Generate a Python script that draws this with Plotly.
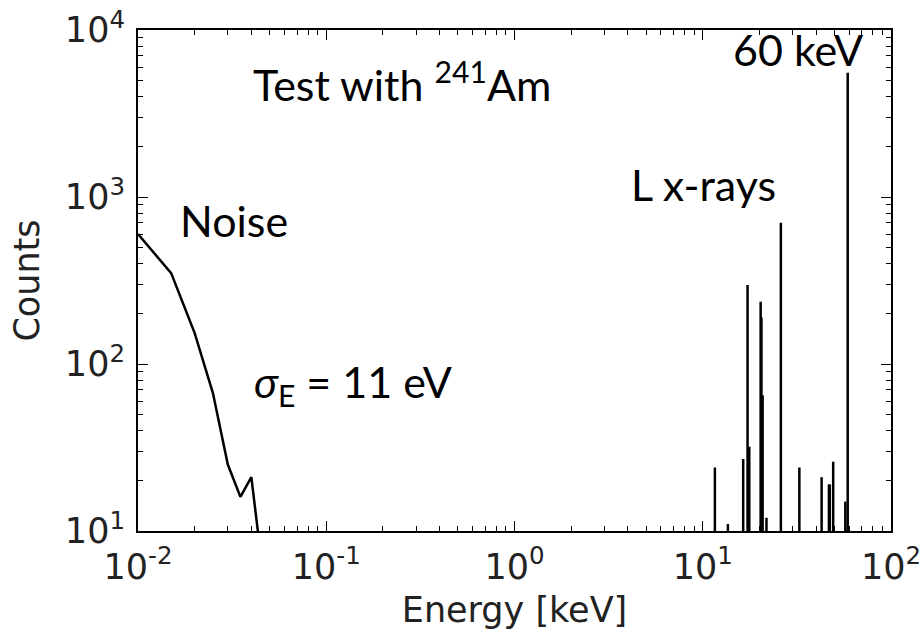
import plotly.graph_objects as go

# Low-energy noise tail of the spectrum (energy in keV, counts)
noise_energy = [0.010, 0.015, 0.020, 0.025, 0.030, 0.035, 0.040, 0.045]
noise_counts = [600, 350, 153, 67, 25, 16, 21, 7]

# Narrow spectral lines (energy in keV, counts)
line_energy = [11.6, 13.6, 16.4, 17.3, 17.66, 20.3, 20.5, 20.8, 21.8,
               26.0, 32.6, 42.8, 46.8, 47.3, 49.3, 57.2, 58.9]
line_counts = [24, 11, 27, 297, 32, 236, 190, 65, 12,
               700, 24, 21, 19, 19, 26, 15, 5550]

# counts level the line segments start from (below the visible range)
line_floor = 1

x_tickvals = [1e-2, 1e-1, 1e0, 1e1, 1e2]
x_ticktext = ["10<sup>-2</sup>", "10<sup>-1</sup>", "10<sup>0</sup>",
              "10<sup>1</sup>", "10<sup>2</sup>"]
y_tickvals = [1e1, 1e2, 1e3, 1e4]
y_ticktext = ["10<sup>1</sup>", "10<sup>2</sup>", "10<sup>3</sup>", "10<sup>4</sup>"]

minor_mult = [2, 3, 4, 5, 6, 7, 8, 9]
x_minor = [m * d for d in x_tickvals[:-1] for m in minor_mult]
y_minor = [m * d for d in y_tickvals[:-1] for m in minor_mult]

# build spike polyline with gaps between lines
spk_x, spk_y = [], []
for e, c in zip(line_energy, line_counts):
    spk_x += [e, e, None]
    spk_y += [line_floor, c, None]

fig = go.Figure()
fig.add_trace(go.Scatter(x=noise_energy, y=noise_counts, mode="lines",
                         line=dict(color="black", width=2.5), showlegend=False))
fig.add_trace(go.Scatter(x=spk_x, y=spk_y, mode="lines", connectgaps=False,
                         line=dict(color="black", width=2.5), showlegend=False))

tick_font = dict(family="DejaVu Sans", size=35, color="#222")
title_font = dict(family="DejaVu Sans", size=35, color="#222")
axis_common = dict(
    showline=True, linecolor="black", linewidth=2, mirror="allticks",
    ticks="inside", ticklen=10, tickwidth=1, tickcolor="black",
    showgrid=False, zeroline=False, tickfont=tick_font,
    tickmode="array", automargin=False,
)

fig.update_xaxes(type="log", range=[-2, 2], tickvals=x_tickvals, ticktext=x_ticktext,
                 minor=dict(tickvals=x_minor, ticks="inside", ticklen=5,
                            tickcolor="black", tickwidth=1, showgrid=False),
                 title=dict(text="Energy [keV]", font=title_font),
                 ticklabelstandoff=4, **axis_common)
fig.update_yaxes(type="log", range=[1, 4], tickvals=y_tickvals, ticktext=y_ticktext,
                 minor=dict(tickvals=y_minor, ticks="inside", ticklen=5,
                            tickcolor="black", tickwidth=1, showgrid=False),
                 title=dict(text="Counts", font=title_font),
                 ticklabelstandoff=4, **axis_common)

ann_font = dict(family="Lato", size=43, color="black")
annotations = [
    dict(text="Test with <sup>241</sup>Am", x=-1.400, y=3.689),
    dict(text="Noise", x=-1.786, y=2.862),
    dict(text="<i>σ</i><sub>E</sub> = 11 eV", x=-1.395, y=1.88),
    dict(text="L x-rays", x=0.608, y=3.076),
    dict(text="60 keV", x=1.150, y=3.886),
]
for a in annotations:
    fig.add_annotation(xref="x", yref="y", xanchor="left", yanchor="middle",
                       showarrow=False, font=ann_font, **a)

fig.update_layout(
    width=923, height=630,
    margin=dict(l=138, r=32, t=30, b=99),
    paper_bgcolor="white", plot_bgcolor="white",
)

fig.write_html("out.html")
